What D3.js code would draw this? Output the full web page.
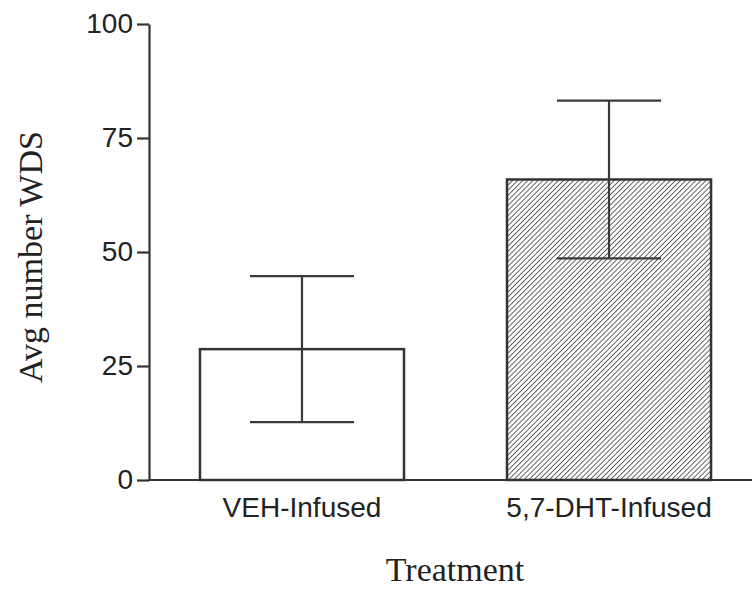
<!DOCTYPE html>
<html>
<head>
    <meta charset="utf-8">
    <title>Avg number WDS by treatment</title>
    <script src="https://cdnjs.cloudflare.com/ajax/libs/d3/7.8.5/d3.min.js"></script>
    <style>
        html, body {
            margin: 0;
            padding: 0;
            background: #fff;
        }
        .tick-label {
            font-family: "Liberation Sans", Arial, sans-serif;
            font-size: 28px;
            fill: #222;
        }
        .title {
            font-family: "Liberation Serif", "Times New Roman", serif;
            font-size: 34px;
            fill: #222;
        }
    </style>
</head>
<body>
<div id="chart"></div>
<script>
    // data
    const treatments = ["VEH-Infused", "5,7-DHT-Infused"];
    const means = [28.7, 65.9];
    const sems = [16.0, 17.3];
    const yTicks = [0, 25, 50, 75, 100];

    const width = 752, height = 590;
    const margin = { left: 149, top: 24, bottom: 110 };

    const svg = d3.select("#chart")
        .append("svg")
        .attr("width", width)
        .attr("height", height);

    // hatch pattern for the second bar
    const defs = svg.append("defs");
    defs.append("pattern")
        .attr("id", "hatch")
        .attr("patternUnits", "userSpaceOnUse")
        .attr("width", 3.6)
        .attr("height", 3.6)
        .attr("patternTransform", "rotate(45)")
        .append("line")
        .attr("x1", 0).attr("y1", 0)
        .attr("x2", 0).attr("y2", 3.6)
        .attr("stroke", "#4a4a4a")
        .attr("stroke-width", 1.7);

    const y = d3.scaleLinear()
        .domain([0, 100])
        .range([height - margin.bottom, margin.top]);

    const x = d3.scaleBand()
        .domain(treatments)
        .range([margin.left, 762])
        .paddingInner(0.3355)
        .paddingOuter(0.166);

    const fills = ["#fff", "url(#hatch)"];
    const rows = treatments.map((t, i) => ({ t: t, m: means[i], s: sems[i], fill: fills[i] }));

    // bars
    svg.append("g")
        .selectAll("rect")
        .data(rows)
        .join("rect")
        .attr("x", d => x(d.t))
        .attr("y", d => y(d.m))
        .attr("width", x.bandwidth())
        .attr("height", d => y(0) - y(d.m))
        .attr("fill", d => d.fill)
        .attr("stroke", "#333")
        .attr("stroke-width", 2.5);

    // error bars
    const capW = x.bandwidth() * 0.51;
    const err = svg.append("g")
        .attr("stroke", "#3a3a3a")
        .attr("stroke-width", 2.2);

    err.selectAll(".stem")
        .data(rows)
        .join("line")
        .attr("class", "stem")
        .attr("x1", d => x(d.t) + x.bandwidth() / 2)
        .attr("x2", d => x(d.t) + x.bandwidth() / 2)
        .attr("y1", d => y(d.m - d.s))
        .attr("y2", d => y(d.m + d.s));

    err.selectAll(".capHi")
        .data(rows)
        .join("line")
        .attr("class", "capHi")
        .attr("x1", d => x(d.t) + x.bandwidth() / 2 - capW / 2)
        .attr("x2", d => x(d.t) + x.bandwidth() / 2 + capW / 2)
        .attr("y1", d => y(d.m + d.s))
        .attr("y2", d => y(d.m + d.s));

    err.selectAll(".capLo")
        .data(rows)
        .join("line")
        .attr("class", "capLo")
        .attr("x1", d => x(d.t) + x.bandwidth() / 2 - capW / 2)
        .attr("x2", d => x(d.t) + x.bandwidth() / 2 + capW / 2)
        .attr("y1", d => y(d.m - d.s))
        .attr("y2", d => y(d.m - d.s));

    // y axis
    const yAxis = svg.append("g")
        .attr("transform", `translate(${margin.left},0)`)
        .call(d3.axisLeft(y).tickValues(yTicks).tickSize(12).tickPadding(4).tickSizeOuter(0));
    yAxis.select(".domain").attr("stroke", "#333").attr("stroke-width", 2.2);
    yAxis.selectAll(".tick line").attr("stroke", "#333").attr("stroke-width", 2.2);
    yAxis.selectAll(".tick text")
        .attr("class", "tick-label")
        .attr("font-size", null)
        .attr("font-family", null)
        .attr("fill", null);

    // x axis (no ticks)
    const xAxis = svg.append("g")
        .attr("transform", `translate(0,${y(0)})`)
        .call(d3.axisBottom(x).tickSize(0).tickPadding(17));
    xAxis.select(".domain")
        .attr("d", `M${margin.left},0H${width}`)
        .attr("stroke", "#333")
        .attr("stroke-width", 2.2);
    xAxis.selectAll(".tick text")
        .attr("class", "tick-label")
        .attr("font-size", null)
        .attr("font-family", null)
        .attr("fill", null);

    // titles
    svg.append("text")
        .attr("class", "title")
        .attr("text-anchor", "middle")
        .attr("x", 455)
        .attr("y", 581)
        .text("Treatment");

    svg.append("text")
        .attr("class", "title")
        .attr("text-anchor", "middle")
        .attr("transform", "translate(42,257) rotate(-90)")
        .text("Avg number WDS");
</script>
</body>
</html>
